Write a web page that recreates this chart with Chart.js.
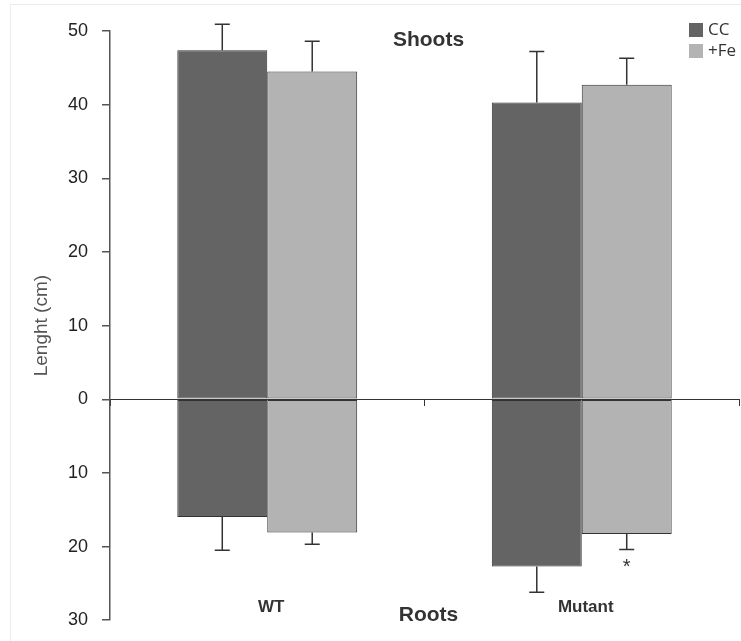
<!DOCTYPE html>
<html>
<head>
<meta charset="utf-8">
<script src="https://cdn.jsdelivr.net/npm/chart.js@4"></script>
<style>
  body { margin: 0; background: #fff; }
  #wrap { position: relative; width: 741px; height: 641px; overflow: hidden; }
  #frame { position: absolute; left: 10px; top: 4px; width: 760px; height: 660px; border: 1px solid #ececec; pointer-events: none; }
</style>
</head>
<body>
<div id="wrap">
  <canvas id="chart" width="741" height="645"></canvas>
  <div id="frame"></div>
</div>
<script>
// Datos del gráfico
const categories = ['WT', 'Mutant'];
const seriesNames = ['CC', '+Fe'];
const shootsCC = [47.4, 40.3];
const shootsFe = [44.5, 42.7];
const rootsCC = [-16.0, -22.7];
const rootsFe = [-18.1, -18.3];
const shootsErrCC = [3.5, 6.9];
const shootsErrFe = [4.1, 3.6];
const rootsErrCC = [4.5, 3.5];
const rootsErrFe = [1.6, 2.1];
const yTicks = [-30, -20, -10, 0, 10, 20, 30, 40, 50];

const darkGrey = '#646464';
const lightGrey = '#b3b3b3';
const edge = '#333333';
const arial = '"Liberation Sans", Arial, sans-serif';

const barStyle = (color, stack) => ({
    backgroundColor: color,
    borderColor: edge,
    borderWidth: 1,
    borderSkipped: false,
    stack: stack,
    categoryPercentage: 0.572,
    barPercentage: 1.0,
});

// Barras de error (hacia arriba en tallos, hacia abajo en raíces)
const errorBars = {
    id: 'errorBars',
    afterDatasetsDraw(chart) {
        const ctx = chart.ctx;
        const y = chart.scales.y;
        ctx.save();
        ctx.strokeStyle = '#333';
        ctx.lineWidth = 1.5;
        chart.data.datasets.forEach((ds, di) => {
            const meta = chart.getDatasetMeta(di);
            meta.data.forEach((bar, i) => {
                const v = ds.data[i];
                const err = ds.errors[i];
                const end = y.getPixelForValue(v < 0 ? v - err : v + err);
                ctx.beginPath();
                ctx.moveTo(bar.x, bar.y);
                ctx.lineTo(bar.x, end);
                ctx.moveTo(bar.x - 7.5, end);
                ctx.lineTo(bar.x + 7.5, end);
                ctx.stroke();
            });
        });
        ctx.restore();
    }
};

// Textos: categorías, "Shoots", "Roots", asterisco y leyenda
const annotations = {
    id: 'annotations',
    afterDraw(chart) {
        const ctx = chart.ctx;
        const x = chart.scales.x;
        const y = chart.scales.y;
        ctx.save();
        ctx.fillStyle = '#333';
        ctx.textAlign = 'center';
        ctx.textBaseline = 'middle';

        ctx.font = 'bold 17px ' + arial;
        categories.forEach((c, i) => {
            ctx.fillText(c, x.getPixelForValue(i) + 4, y.getPixelForValue(-28.3));
        });

        ctx.font = 'bold 21px ' + arial;
        ctx.fillText('Shoots', x.getPixelForValue(0.5) + 4, y.getPixelForValue(48.8));
        ctx.fillText('Roots', x.getPixelForValue(0.5) + 4, y.getPixelForValue(-29.3));

        ctx.font = '20px ' + arial;
        const fe = chart.getDatasetMeta(3).data[1];
        ctx.fillText('*', fe.x, y.getPixelForValue(-22.9));

        // Leyenda
        const lx = chart.chartArea.right - 50;
        const colors = [darkGrey, lightGrey];
        ctx.textAlign = 'left';
        ctx.font = '17px "Open Sans", sans-serif';
        seriesNames.forEach((name, i) => {
            const ly = 23 + i * 21;
            ctx.fillStyle = colors[i];
            ctx.fillRect(lx, ly, 14, 14);
            ctx.fillStyle = '#333';
            ctx.fillText(name, lx + 19, ly + 7);
        });
        ctx.restore();
    }
};

new Chart(document.getElementById('chart').getContext('2d'), {
    type: 'bar',
    data: {
        labels: categories,
        datasets: [
            { label: 'CC shoots', data: shootsCC, errors: shootsErrCC, ...barStyle(darkGrey, 'cc') },
            { label: 'CC roots', data: rootsCC, errors: rootsErrCC, ...barStyle(darkGrey, 'cc') },
            { label: '+Fe shoots', data: shootsFe, errors: shootsErrFe, ...barStyle(lightGrey, 'fe') },
            { label: '+Fe roots', data: rootsFe, errors: rootsErrFe, ...barStyle(lightGrey, 'fe') },
        ],
    },
    options: {
        responsive: false,
        animation: false,
        layout: { padding: { top: 31, bottom: 0, right: 2, left: 0 } },
        plugins: {
            legend: { display: false },
            tooltip: { enabled: false },
        },
        scales: {
            x: {
                stacked: true,
                position: { y: 0 },
                offset: true,
                afterFit: s => { s.height = 0; },
                ticks: { display: false },
                grid: { drawOnChartArea: false, tickLength: 6, color: '#333', offset: true },
                border: { display: true, color: '#333', width: 1 },
            },
            y: {
                stacked: true,
                min: -30,
                max: 50,
                afterBuildTicks: s => { s.ticks = yTicks.map(v => ({ value: v })); },
                afterFit: s => { s.width = 110; },
                ticks: {
                    callback: v => Math.abs(v),
                    color: '#222',
                    padding: 14,
                    font: { size: 18, family: arial },
                },
                grid: { drawOnChartArea: false, tickLength: 8, color: '#555', lineWidth: 1.5 },
                border: { display: true, color: '#555', width: 1.5 },
                title: {
                    display: true,
                    text: 'Lenght (cm)',
                    color: '#555',
                    padding: { top: 30, bottom: 0 },
                    font: { size: 19, family: arial },
                },
            },
        },
    },
    plugins: [errorBars, annotations],
});
</script>
</body>
</html>
